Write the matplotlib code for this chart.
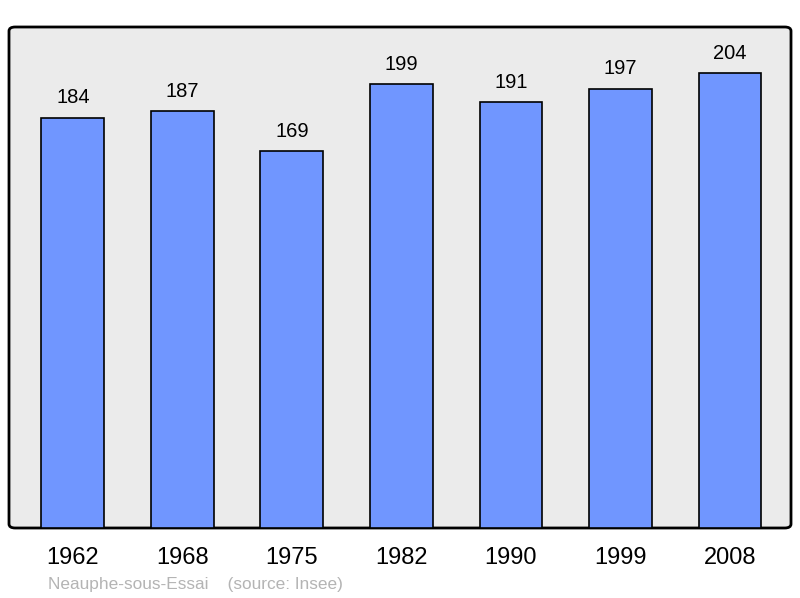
import matplotlib
matplotlib.use("Agg")
import matplotlib.pyplot as plt
from matplotlib.patches import FancyBboxPatch

years = ["1962", "1968", "1975", "1982", "1990", "1999", "2008"]
population = [184, 187, 169, 199, 191, 197, 204]
source_text = "Neauphe-sous-Essai    (source: Insee)"

plt.rcParams['font.family'] = ['Liberation Sans', 'DejaVu Sans']

fig = plt.figure(figsize=(8, 5.98), dpi=100)
ax = fig.add_axes([9/800, 70/598, 782/800, 501/598])
ax.set_xlim(-0.584, 6.557)
ax.set_ylim(0, 224.8)
ax.patch.set_visible(False)
for s in ax.spines.values():
    s.set_visible(False)

frame = FancyBboxPatch((0, 0), 1, 1, boxstyle="round,pad=0,rounding_size=0.008",
                       transform=ax.transAxes, facecolor="#ebebeb", edgecolor="black",
                       linewidth=2, zorder=0, clip_on=False)
ax.add_patch(frame)

x = list(range(len(years)))
ax.bar(x, population, width=0.575, color="#7096ff", edgecolor="black", linewidth=1.2, zorder=2)
for xi, v in zip(x, population):
    ax.annotate(str(v), (xi, v), xytext=(0, 20), textcoords="offset pixels",
                ha="center", va="center", fontsize=14.5, color="black")

ax.set_xticks(x)
ax.set_xticklabels(years, fontsize=17)
ax.tick_params(axis="x", length=0, pad=13.5)
ax.set_yticks([])

fig.text(48/800, 1 - 584/598, source_text, fontsize=12.4, color="#b4b4b4", ha="left", va="center")

fig.savefig("out.png", dpi=100)
